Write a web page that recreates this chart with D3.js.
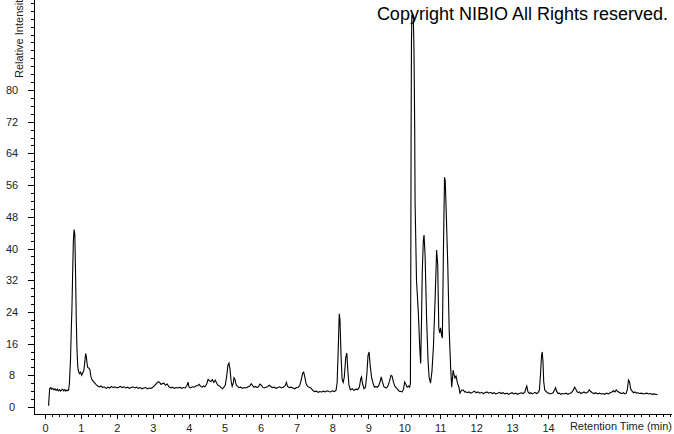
<!DOCTYPE html>
<html>
<head>
<meta charset="utf-8">
<script src="https://cdn.jsdelivr.net/npm/d3@7"></script>
<style>
  body { margin: 0; background: #fff; }
  svg { display: block; }
  text { font-family: "Liberation Sans", Arial, sans-serif; }
</style>
</head>
<body>
<div id="chart"></div>
<script>
// tick labels
const xTickLabels = [0, 1, 2, 3, 4, 5, 6, 7, 8, 9, 10, 11, 12, 13, 14];
const yTickLabels = [0, 8, 16, 24, 32, 40, 48, 56, 64, 72, 80];

// chromatogram: [retention time (min), relative intensity]
const chromatogram = [
  [0.10, 0.3], [0.11, 2.0], [0.13, 4.6], [0.16, 4.9], [0.19, 4.5], [0.22, 4.7], [0.25, 4.3], [0.28, 4.6],
  [0.31, 4.2], [0.34, 4.5], [0.37, 4.1], [0.40, 4.4], [0.43, 4.0], [0.46, 4.3], [0.49, 4.5], [0.52, 4.1],
  [0.55, 4.4], [0.58, 4.0], [0.61, 4.3], [0.64, 4.1], [0.66, 4.4],
  [0.68, 6.0], [0.71, 12.0], [0.73, 19.0], [0.75, 25.0], [0.77, 34.0], [0.79, 42.0], [0.81, 44.8], [0.83, 43.5],
  [0.85, 34.0], [0.87, 22.0], [0.89, 14.5], [0.91, 10.5], [0.93, 9.0], [0.96, 8.4], [0.99, 8.8], [1.02, 8.0],
  [1.05, 8.6], [1.08, 9.2], [1.11, 11.5], [1.13, 13.5], [1.15, 12.8], [1.17, 11.0], [1.19, 10.0], [1.22, 9.8],
  [1.25, 9.4], [1.28, 7.6], [1.31, 6.9], [1.35, 6.4], [1.39, 6.0], [1.43, 5.6], [1.47, 5.3], [1.52, 5.1],
  [1.56, 5.3],
  [1.60, 4.9], [1.65, 5.1], [1.70, 4.7], [1.75, 5.0], [1.80, 4.8], [1.85, 5.2], [1.90, 4.9], [1.95, 5.1],
  [2.00, 4.8], [2.05, 5.0], [2.10, 5.2], [2.15, 4.9], [2.20, 5.1], [2.25, 4.8], [2.30, 5.0], [2.35, 4.7],
  [2.40, 4.9], [2.45, 5.1], [2.50, 4.8], [2.55, 5.0], [2.60, 4.7], [2.65, 4.9], [2.70, 4.6], [2.75, 4.8],
  [2.80, 4.9], [2.85, 4.6], [2.90, 4.8], [2.95, 4.7], [3.00, 5.0],
  [3.05, 5.4], [3.10, 5.9], [3.15, 6.4], [3.19, 6.2], [3.23, 5.7], [3.27, 5.9], [3.31, 6.0], [3.35, 5.5],
  [3.40, 5.8], [3.45, 5.1], [3.50, 4.8], [3.55, 5.0], [3.60, 4.7], [3.65, 4.9], [3.70, 4.8], [3.75, 5.0],
  [3.80, 4.7], [3.85, 4.9], [3.90, 4.8], [3.95, 5.4], [3.98, 6.3], [4.01, 5.0], [4.05, 4.8], [4.10, 5.1],
  [4.15, 5.0], [4.20, 5.3], [4.25, 5.4], [4.29, 5.7], [4.33, 5.2], [4.37, 5.0], [4.41, 5.3], [4.45, 5.1],
  [4.50, 5.8], [4.54, 7.0], [4.58, 6.6], [4.62, 6.4], [4.66, 6.9], [4.70, 6.2], [4.74, 6.8], [4.78, 6.0],
  [4.82, 5.4], [4.86, 5.3], [4.90, 4.9], [4.94, 4.6], [4.98, 5.0], [5.02, 5.6], [5.06, 8.0], [5.09, 10.5],
  [5.12, 11.1], [5.15, 9.5], [5.18, 6.5], [5.21, 5.2], [5.24, 6.0], [5.26, 7.4], [5.29, 6.9], [5.32, 5.6],
  [5.36, 5.2], [5.40, 4.9], [5.45, 5.0], [5.50, 4.7], [5.55, 4.9], [5.60, 4.8], [5.65, 5.1], [5.70, 5.3],
  [5.74, 5.9], [5.78, 5.4], [5.82, 5.0], [5.86, 5.2], [5.90, 4.9], [5.94, 5.1], [5.98, 5.8], [6.02, 5.5],
  [6.06, 5.0], [6.10, 4.8], [6.15, 5.0], [6.20, 5.2], [6.25, 5.5], [6.29, 5.1], [6.33, 4.9], [6.38, 5.0],
  [6.43, 4.7], [6.48, 4.9], [6.53, 5.1], [6.58, 4.8], [6.63, 5.0], [6.68, 5.3], [6.72, 6.2], [6.75, 5.2],
  [6.80, 4.9], [6.85, 5.0], [6.90, 4.8], [6.95, 4.6], [7.00, 4.9], [7.05, 5.0], [7.09, 5.4], [7.13, 6.8],
  [7.17, 8.5], [7.20, 8.8], [7.23, 7.6], [7.27, 5.8], [7.31, 5.2], [7.35, 5.0], [7.40, 4.8], [7.45, 4.2],
  [7.50, 3.9], [7.55, 4.0], [7.60, 3.7], [7.65, 3.9], [7.70, 3.8], [7.75, 4.0], [7.80, 3.8], [7.85, 4.1],
  [7.90, 3.9], [7.95, 3.8], [8.00, 4.1], [8.05, 3.9], [8.10, 4.2],
  [8.13, 6.0], [8.16, 14.0], [8.19, 23.5], [8.21, 22.0], [8.24, 13.0], [8.27, 7.0], [8.30, 6.2], [8.33, 7.5],
  [8.37, 12.5], [8.40, 13.6], [8.43, 9.0], [8.46, 5.5], [8.50, 4.3], [8.55, 4.6], [8.60, 4.2], [8.65, 4.5],
  [8.70, 4.4], [8.75, 5.0], [8.79, 7.2], [8.81, 7.6], [8.84, 5.8], [8.88, 4.6], [8.92, 5.0], [8.96, 8.5],
  [8.99, 13.0], [9.02, 13.9], [9.05, 10.5], [9.09, 7.5], [9.13, 6.0], [9.17, 5.0], [9.21, 5.2], [9.25, 5.0],
  [9.29, 5.4], [9.33, 6.5], [9.36, 7.6], [9.39, 6.4], [9.43, 5.2], [9.47, 4.9], [9.51, 4.8], [9.55, 5.4],
  [9.59, 6.6], [9.63, 8.0], [9.66, 7.8], [9.70, 6.2], [9.74, 5.2], [9.78, 4.8], [9.82, 4.4], [9.86, 4.0],
  [9.90, 3.9], [9.94, 3.8], [9.98, 4.5], [10.01, 6.3], [10.04, 5.8], [10.08, 5.0], [10.12, 5.3], [10.15, 5.0],
  [10.17, 6.0], [10.18, 30.0], [10.19, 70.0], [10.20, 92.0], [10.21, 99.0], [10.23, 98.5], [10.25, 99.0], [10.27, 90.0],
  [10.29, 70.0], [10.30, 52.0], [10.34, 32.0], [10.39, 24.0], [10.43, 15.0], [10.456, 11.0], [10.48, 22.0], [10.50, 34.0],
  [10.53, 42.0], [10.55, 43.4], [10.58, 38.0], [10.62, 22.7], [10.66, 12.0], [10.69, 7.6], [10.73, 6.0], [10.77, 9.0],
  [10.81, 15.0], [10.86, 27.8], [10.90, 39.6], [10.93, 36.0], [10.96, 20.0], [10.985, 18.7], [11.01, 20.0], [11.04, 18.0],
  [11.06, 17.4], [11.09, 40.0], [11.12, 58.0], [11.14, 57.0], [11.16, 51.5], [11.21, 36.0], [11.25, 19.4], [11.29, 10.0],
  [11.32, 5.0], [11.36, 9.3], [11.38, 8.4], [11.41, 7.3], [11.44, 7.8], [11.48, 6.0], [11.52, 5.0], [11.55, 3.5],
  [11.60, 4.3], [11.64, 4.3], [11.68, 3.8],
  [11.70, 3.9], [11.75, 3.6], [11.80, 3.8], [11.85, 3.5], [11.90, 3.7], [11.95, 4.0], [12.00, 3.6], [12.05, 3.8],
  [12.10, 3.5], [12.15, 3.7], [12.20, 3.4], [12.25, 3.6], [12.30, 3.8], [12.35, 3.5], [12.40, 3.7], [12.45, 3.4],
  [12.50, 3.6], [12.55, 3.3], [12.60, 3.5], [12.65, 3.7], [12.70, 3.4], [12.75, 3.6], [12.80, 3.3], [12.85, 3.5],
  [12.90, 3.2], [12.95, 3.4], [13.00, 3.6], [13.05, 3.3], [13.10, 3.5], [13.15, 3.2], [13.20, 3.4], [13.25, 3.6],
  [13.30, 3.4], [13.35, 3.7], [13.39, 4.8], [13.41, 5.3], [13.44, 3.9], [13.48, 3.4], [13.52, 3.6], [13.56, 3.3],
  [13.60, 3.5], [13.64, 3.7], [13.68, 3.4], [13.72, 3.6], [13.76, 4.2], [13.79, 8.0], [13.82, 13.0], [13.84, 13.9],
  [13.86, 11.5], [13.88, 6.5], [13.91, 4.3], [13.94, 4.0], [13.98, 3.6], [14.02, 3.5], [14.06, 3.3], [14.10, 3.4],
  [14.14, 3.6], [14.18, 4.2], [14.21, 4.9], [14.24, 4.0], [14.28, 3.4], [14.32, 3.5], [14.36, 3.2], [14.40, 3.4],
  [14.45, 3.3], [14.50, 3.5], [14.55, 3.2], [14.60, 3.4], [14.65, 3.6], [14.70, 4.2], [14.74, 5.0], [14.77, 4.6],
  [14.80, 4.0], [14.84, 3.6], [14.88, 3.8], [14.92, 3.4], [14.96, 3.6], [15.00, 3.8], [15.05, 3.5], [15.10, 3.7],
  [15.15, 4.3], [15.19, 3.9], [15.23, 3.6], [15.28, 3.4], [15.33, 3.6], [15.38, 3.3], [15.43, 3.5], [15.48, 3.3],
  [15.53, 3.4], [15.58, 3.2], [15.63, 3.5], [15.68, 3.3], [15.73, 3.6], [15.78, 3.8], [15.82, 4.1], [15.86, 3.8],
  [15.90, 4.3], [15.94, 3.9], [15.98, 3.7], [16.02, 3.5], [16.06, 3.4], [16.10, 3.6], [16.14, 3.3], [16.18, 3.5],
  [16.21, 4.5], [16.24, 6.8], [16.27, 6.3], [16.30, 4.6], [16.34, 4.0], [16.38, 3.6], [16.42, 3.8], [16.46, 3.5],
  [16.50, 3.6], [16.55, 3.4], [16.60, 3.5], [16.65, 3.3], [16.70, 3.4], [16.75, 3.5], [16.80, 3.3], [16.85, 3.4],
  [16.90, 3.2], [16.95, 3.3], [17.00, 3.2], [17.05, 3.1]
];

const width = 674, height = 434;
const axisLeftX = 34, axisBottomY = 414, axisRightX = 672;

const svg = d3.select('#chart')
  .append('svg')
  .attr('width', width)
  .attr('height', height);

// 0 min sits at x=45, 14 min at x=548
const x = d3.scaleLinear().domain([0, 14]).range([45, 548]);
// 0 sits at y=407, 80 at y=90
const y = d3.scaleLinear().domain([0, 80]).range([407, 90]);

// x axis: minor ticks every 0.2 min, labelled ticks every minute
const xMinor = d3.range(0, x.invert(axisRightX), 0.2);
svg.append('g')
  .attr('transform', `translate(0,${axisBottomY})`)
  .call(d3.axisBottom(x).tickValues(xMinor).tickSize(3).tickSizeOuter(0).tickFormat(''))
  .call(g => g.select('.domain').remove());
svg.append('g')
  .attr('transform', `translate(0,${axisBottomY})`)
  .call(d3.axisBottom(x).tickValues(xTickLabels).tickSize(5).tickPadding(5).tickFormat(d3.format('d')))
  .call(g => g.select('.domain').remove())
  .call(g => g.selectAll('text').attr('font-size', 11).attr('fill', '#222')
    .attr('font-family', '"Liberation Sans", Arial, sans-serif'));

// y axis: minor ticks every 2, labelled ticks every 8
const yMinor = d3.range(0, y.invert(0), 2);
svg.append('g')
  .attr('transform', `translate(${axisLeftX},0)`)
  .call(d3.axisLeft(y).tickValues(yMinor).tickSize(3).tickSizeOuter(0).tickFormat(''))
  .call(g => g.select('.domain').remove());
svg.append('g')
  .attr('transform', `translate(${axisLeftX},0)`)
  .call(d3.axisLeft(y).tickValues(yTickLabels).tickSize(6).tickFormat(d3.format('d')))
  .call(g => g.select('.domain').remove())
  .call(g => g.selectAll('text').attr('font-size', 11).attr('fill', '#222')
    .attr('text-anchor', 'middle').attr('x', -22)
    .attr('font-family', '"Liberation Sans", Arial, sans-serif'));

svg.selectAll('.tick line').attr('stroke', '#000').attr('shape-rendering', 'crispEdges');

// axis lines
svg.append('line')
  .attr('x1', axisLeftX).attr('x2', axisLeftX)
  .attr('y1', 0).attr('y2', axisBottomY + 0.5)
  .attr('stroke', '#000').attr('shape-rendering', 'crispEdges');
svg.append('line')
  .attr('x1', axisLeftX).attr('x2', axisRightX)
  .attr('y1', axisBottomY).attr('y2', axisBottomY)
  .attr('stroke', '#000').attr('shape-rendering', 'crispEdges');

// axis titles
svg.append('text')
  .attr('x', axisRightX).attr('y', 430)
  .attr('text-anchor', 'end')
  .attr('font-size', 11).attr('fill', '#222')
  .text('Retention Time (min)');

svg.append('text')
  .attr('transform', 'translate(23,78) rotate(-90)')
  .attr('font-size', 11).attr('fill', '#222')
  .text('Relative Intensity');

// the trace
const line = d3.line()
  .x(d => x(d[0]))
  .y(d => y(d[1]));

svg.append('path')
  .datum(chromatogram)
  .attr('d', line)
  .attr('fill', 'none')
  .attr('stroke', '#000')
  .attr('stroke-width', 1.1)
  .attr('stroke-linejoin', 'miter');

// copyright notice
svg.append('text')
  .attr('x', 668).attr('y', 20)
  .attr('text-anchor', 'end')
  .attr('font-size', 18).attr('fill', '#000')
  .text('Copyright NIBIO All Rights reserved.');
</script>
</body>
</html>
